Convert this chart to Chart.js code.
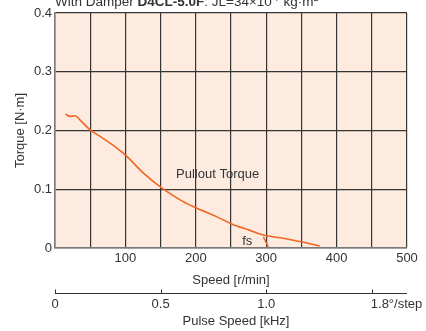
<!DOCTYPE html>
<html lang="en">
<head>
    <meta charset="UTF-8">
    <title>Pullout Torque</title>
    <style>
        body { margin: 0; background: #ffffff; }
        canvas { display: block; }
    </style>
</head>
<body>
    <canvas id="torqueChart" width="426" height="331"></canvas>
    <script src="https://cdn.jsdelivr.net/npm/chart.js"></script>
    <script>
        // values
        const speed = [15, 21, 28, 38, 50, 64, 88, 102, 126, 152, 182, 201, 230, 251, 277, 296, 324, 353, 376];
        const torque = [0.228, 0.224, 0.225, 0.215, 0.201, 0.190, 0.170, 0.156, 0.127, 0.102, 0.079, 0.068, 0.053, 0.041, 0.030, 0.022, 0.0165, 0.0097, 0.0034];
        const fsSpeed = [296, 303];
        const fsTorque = [0.019, 0.002];
        const pulseTicks = [0, 0.5, 1.0, 1.5];
        const pulseLabels = ['0', '0.5', '1.0', '1.8°/step'];
        const rpmPerKHz = 300;

        const FONT = "'Liberation Sans', Arial, sans-serif";
        const TEXT = '#333333';

        const backgroundPlugin = {
            id: 'bg',
            beforeDraw(chart) {
                const { ctx, chartArea: a } = chart;
                ctx.save();
                ctx.fillStyle = '#fdebe0';
                ctx.fillRect(a.left, a.top, a.right - a.left, a.bottom - a.top);
                ctx.restore();
            }
        };

        const extrasPlugin = {
            id: 'extras',
            afterDraw(chart) {
                const { ctx } = chart;
                const x = chart.scales.x, y = chart.scales.y;
                ctx.save();
                ctx.fillStyle = TEXT;

                // heading, partly cut at the top
                ctx.textBaseline = 'alphabetic';
                ctx.textAlign = 'left';
                let px = 55;
                const parts = [
                    ['With Damper ', 'normal', 0],
                    ['D4CL-5.0F', 'bold', 0],
                    [': JL=34\u00d710', 'normal', 0],
                    ['-7', 'small', -5],
                    [' kg\u00b7m', 'normal', 0],
                    ['2', 'small', -5]
                ];
                parts.forEach(([t, w, dy]) => {
                    ctx.font = w === 'bold' ? 'bold 13.5px ' + FONT : (w === 'small' ? '9px ' + FONT : '13.5px ' + FONT);
                    ctx.fillText(t, px, 6 + dy);
                    px += ctx.measureText(t).width;
                });

                // curve labels
                ctx.font = '13px ' + FONT;
                ctx.textAlign = 'center';
                ctx.textBaseline = 'middle';
                ctx.fillText('Pullout Torque', x.getPixelForValue(231), y.getPixelForValue(0.126));
                ctx.fillText('fs', x.getPixelForValue(273), y.getPixelForValue(0.011));

                // pulse speed axis
                const ly = 293.5;
                ctx.strokeStyle = '#333333';
                ctx.lineWidth = 1;
                ctx.beginPath();
                ctx.moveTo(x.getPixelForValue(0), ly);
                ctx.lineTo(x.getPixelForValue(500), ly);
                pulseTicks.forEach(k => {
                    const tx = Math.round(x.getPixelForValue(k * rpmPerKHz)) + 0.5;
                    ctx.moveTo(tx, ly);
                    ctx.lineTo(tx, ly - 4);
                });
                ctx.stroke();
                pulseTicks.forEach((k, i) => {
                    const tx = x.getPixelForValue(k * rpmPerKHz);
                    if (i === pulseTicks.length - 1) {
                        ctx.textAlign = 'left';
                        ctx.fillText(pulseLabels[i], tx - 1, 304);
                    } else {
                        ctx.textAlign = 'center';
                        ctx.fillText(pulseLabels[i], tx, 304);
                    }
                });
                ctx.textAlign = 'center';
                ctx.fillText('Pulse Speed [kHz]', 236, 321);
                ctx.restore();
            }
        };

        const ctx = document.getElementById('torqueChart').getContext('2d');
        new Chart(ctx, {
            type: 'line',
            data: {
                datasets: [{
                    data: speed.map((s, i) => ({ x: s, y: torque[i] })),
                    borderColor: '#f26522',
                    borderWidth: 1.6,
                    pointRadius: 0,
                    cubicInterpolationMode: 'monotone',
                    fill: false
                }, {
                    data: fsSpeed.map((s, i) => ({ x: s, y: fsTorque[i] })),
                    borderColor: '#f26522',
                    borderWidth: 1.4,
                    pointRadius: 0,
                    fill: false
                }]
            },
            options: {
                responsive: false,
                animation: false,
                devicePixelRatio: 1,
                layout: { padding: { left: 0, right: 19, top: 13, bottom: 43 } },
                plugins: {
                    legend: { display: false },
                    tooltip: { enabled: false }
                },
                scales: {
                    x: {
                        type: 'linear',
                        min: 0,
                        max: 500,
                        afterFit(s) { s.height = 40; },
                        ticks: {
                            stepSize: 50,
                            autoSkip: false,
                            maxRotation: 0,
                            padding: 3,
                            color: TEXT,
                            font: { family: FONT, size: 13 },
                            callback: v => (v > 0 && v % 100 === 0) ? String(v) : ''
                        },
                        grid: { color: '#363636', lineWidth: 1.2, drawTicks: false },
                        border: { display: true, color: '#7a7a7a', width: 1.5 },
                        title: {
                            display: true,
                            text: 'Speed [r/min]',
                            color: TEXT,
                            font: { family: FONT, size: 13 },
                            padding: { top: 4, bottom: 0 }
                        }
                    },
                    y: {
                        min: 0,
                        max: 0.4,
                        afterFit(s) { s.width = 55; },
                        ticks: {
                            stepSize: 0.1,
                            padding: 3,
                            color: TEXT,
                            font: { family: FONT, size: 13 },
                            callback: v => v === 0 ? '0' : v.toFixed(1)
                        },
                        grid: { color: '#363636', lineWidth: 1.2, drawTicks: false },
                        border: { display: true, color: '#7a7a7a', width: 1.5 },
                        title: {
                            display: true,
                            text: 'Torque [N\u00b7m]',
                            color: TEXT,
                            font: { family: FONT, size: 13 },
                            padding: { top: 13, bottom: 0 }
                        }
                    }
                }
            },
            plugins: [backgroundPlugin, extrasPlugin]
        });
    </script>
</body>
</html>
